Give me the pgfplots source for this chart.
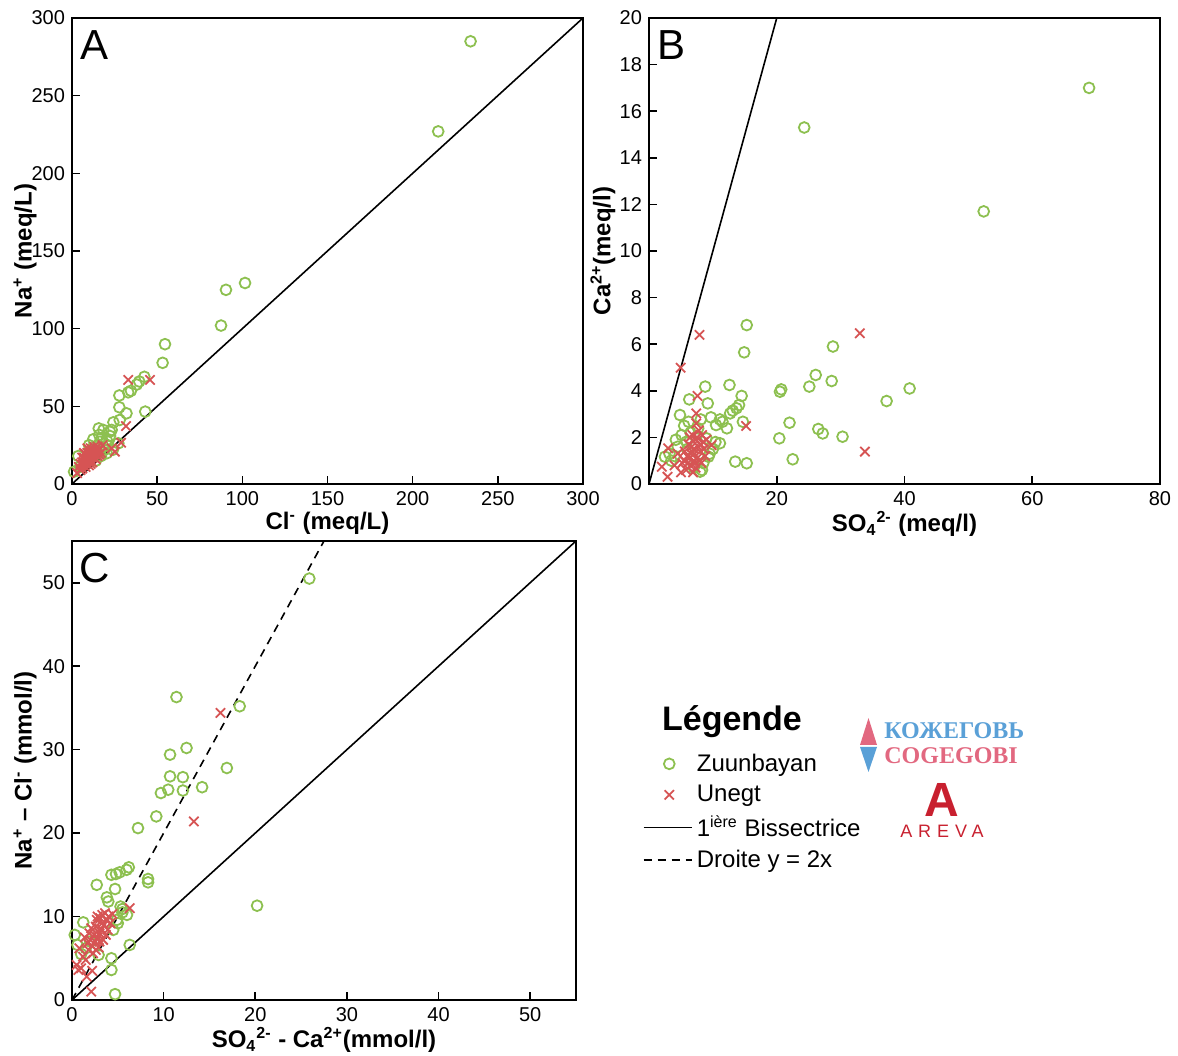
\documentclass[border=0pt]{standalone}
\usepackage{pgfplots}
\pgfplotsset{compat=1.18}
\usepackage{fontspec}
\setmainfont{Liberation Sans}
\newfontfamily\serifbold{Liberation Serif}
\newfontfamily\arevafont[LetterSpace=33]{Liberation Sans}
\definecolor{zgreen}{RGB}{141,192,80}
\definecolor{ured}{RGB}{214,84,84}
\definecolor{logoblue}{RGB}{90,160,215}
\definecolor{logopink}{RGB}{226,104,128}
\definecolor{arevared}{RGB}{200,32,47}
\pgfplotsset{
  panel/.style={
    scale only axis,
    axis line style={line width=1pt},
    xtick pos=left, ytick pos=left,
    tick align=inside,
    major tick length=4pt,
    every tick/.style={black, line width=0.8pt},
    tick label style={font=\fontsize{10}{12}\selectfont},
    /pgf/number format/assume math mode=true,
    legend cell align=left,
  },
  xlab/.style={every axis x label/.style={at={(axis description cs:0.5,0)}, yshift=-#1, anchor=center, font=\bfseries\fontsize{12}{14}\selectfont}},
  ylab/.style={every axis y label/.style={at={(axis description cs:0,0.5)}, xshift=-#1, rotate=90, anchor=center, font=\bfseries\fontsize{12}{14}\selectfont}},
  zz/.style={only marks, mark=o, mark size=2.7pt, color=zgreen, mark options={line width=0.9pt}},
  uu/.style={only marks, mark=x, mark size=3.3pt, color=ured, mark options={line width=0.9pt}},
  linelegend/.style={legend image code/.code={\draw[##1] (-0.15cm,0cm) -- (0.7cm,0cm);}},
}
\begin{document}
\begin{tikzpicture}
\path[use as bounding box] (0,0) rectangle (589pt,527.5pt);

% ---------------- Panel A
\begin{axis}[panel, at={(36pt,285.5pt)}, anchor=south west,
  width=255.5pt, height=233pt, xlab=19.5pt, ylab=23.5pt,
  xmin=0, xmax=300, ymin=0, ymax=300,
  xtick={0,50,...,300}, ytick={0,50,...,300},
  xlabel={Cl\textsuperscript{-} (meq/L)},
  ylabel={Na\textsuperscript{+} (meq/L)}]
\addplot[zz] coordinates {
(234,285) (215,227) (101.6,129.4) (90.4,125) (87.5,102) (54.6,90) (53.2,78)
(42.5,69) (39.5,66) (38,64) (34.6,60) (33,59) (27.8,57) (27.8,49.4) (32,45.5)
(43,46.6) (24.3,39.7) (28,41.2) (15.7,35.8) (18.4,34.8) (22.3,33.7) (23.3,34.8)
(16,31.6) (12.5,28.8) (17.4,29.4) (20.4,28.3) (22.3,30.9) (16.4,27.2) (14.5,24.5)
(18.4,24) (13.5,20.8) (3.7,18) (1.2,7.9) (4.7,11.1) (20.4,19.8) (27.2,26.2)
(19,22) (15,20) (12,23) (10,25) (21,25) (17,18) (14,15) (24,22)
};
\addplot[uu] coordinates {
(33,67) (45.8,67) (31.7,37.3) (28.8,26.6) (25.2,20.8) (23.3,23)
(8,15) (10,18) (12,20) (9,13) (11,16) (13,17) (7,12) (10,22) (14,21) (6,10)
(8,19) (12,14) (15,18) (11,23) (9,20) (13,24) (16,22) (5,9) (7,17) (10,12)
(12,19) (14,16) (9,17) (11,20) (8,13) (3,7) (6,14) (15,24) (17,20) (18,25)
(4,11) (6,17) (9,23) (13,21) (16,19) (7,14) (9,15) (11,18) (13,19) (8,11)
(10,15) (12,17) (14,19) (10,20) (12,22) (6,12) (5,13) (7,20) (11,13) (15,21)
};
\addplot[black, line width=0.8pt] coordinates {(0,0) (300,300)};
\node[font=\fontsize{21}{24}\selectfont] at (axis description cs:0.045,0.942) {A};
\end{axis}

% ---------------- Panel B
\begin{axis}[panel, at={(324.5pt,285.5pt)}, anchor=south west,
  width=255.5pt, height=233pt, xlab=20pt, ylab=23pt,
  xmin=0, xmax=80, ymin=0, ymax=20,
  xtick={20,40,60,80}, ytick={0,2,...,20},
  xlabel={SO\textsubscript{4}\textsuperscript{2-} (meq/l)},
  ylabel={Ca\textsuperscript{2+}(meq/l)}]
\addplot[zz] coordinates {
(68.9,17) (24.3,15.3) (52.4,11.7) (15.3,6.82) (14.9,5.65) (28.8,5.9) (26.1,4.68)
(25.1,4.18) (28.6,4.42) (20.7,4.06) (20.5,3.96) (40.8,4.1) (37.2,3.56) (22,2.63)
(26.5,2.36) (27.2,2.17) (30.3,2.03) (20.4,1.96) (22.5,1.06) (13.5,0.96) (15.3,0.89)
(12.6,4.25) (8.8,4.18) (6.3,3.63) (9.2,3.46) (14.5,3.78) (14.1,3.39) (13.7,3.25)
(13.1,3.15) (12.7,3.03) (4.85,2.96) (6.2,2.67) (8.1,2.77) (9.7,2.86) (11.1,2.77)
(11.5,2.67) (10.5,2.53) (12.2,2.39) (14.7,2.67)
(2.5,1.17) (8.0,0.53) (8.3,0.6) (9.3,1.17) (5.1,2.1) (5.9,1.82) (7.7,2.39)
(9.0,1.96) (11.1,1.75) (4.0,1.2) (3.5,1.0) (6.0,1.5) (4.5,1.6) (3.2,1.3)
(10.0,1.5) (8.5,0.9) (7.0,0.7) (5.5,2.5) (6.5,2.2) (9.5,1.3) (4.2,1.9) (10.4,1.8)
};
\addplot[uu] coordinates {
(7.9,6.4) (33.0,6.47) (4.96,4.99) (7.6,3.78) (7.4,3.03) (15.2,2.49) (33.8,1.39)
(3.0,1.53) (2.0,0.74) (2.9,0.31) (9.8,1.67)
(5.5,1.0) (6.0,1.2) (6.5,0.8) (7.0,1.5) (7.2,1.9) (7.5,1.1) (8.0,1.4) (8.2,0.9)
(6.8,2.1) (7.8,2.3) (6.2,1.7) (5.8,0.6) (7.3,0.7) (8.5,1.8) (6.6,1.3) (7.0,1.0)
(8.8,1.2) (5.2,0.9) (4.5,1.3) (7.7,1.6) (6.4,2.0) (8.3,2.1) (5.0,0.5) (6.9,0.5)
(9.0,1.9) (7.4,2.6) (4.0,0.8) (7.1,1.3) (6.1,0.9) (6.7,1.6) (7.9,1.0) (8.6,1.5)
(5.6,1.4) (7.5,2.0) (6.3,1.1) (8.1,1.7) (7.2,0.9)
};
\addplot[black, line width=0.8pt] coordinates {(0,0) (20,20)};
\node[font=\fontsize{21}{24}\selectfont] at (axis description cs:0.045,0.942) {B};
\end{axis}

% ---------------- Panel C
\begin{axis}[panel, at={(36pt,27.5pt)}, anchor=south west,
  width=252pt, height=229.5pt, xlab=20pt, ylab=23.5pt,
  xmin=0, xmax=55, ymin=0, ymax=55,
  xtick={0,10,...,50}, ytick={0,10,...,50},
  xlabel={SO\textsubscript{4}\textsuperscript{2-} - Ca\textsuperscript{2+}(mmol/l)},
  ylabel={Na\textsuperscript{+} -- Cl\textsuperscript{-} (mmol/l)},
  legend style={at={(axis description cs:1.12,0.555)}, anchor=north west,
    draw=none, fill=none, font=\fontsize{12}{14}\selectfont,
    row sep=1.5pt}]
\addplot[zz] coordinates {
(25.9,50.5) (11.4,36.3) (18.3,35.2) (12.5,30.2) (10.7,29.4) (16.9,27.8) (10.7,26.8)
(12.1,26.7) (10.5,25.2) (9.7,24.8) (12.1,25.1) (14.2,25.5) (9.2,22.0) (7.2,20.6)
(20.2,11.3) (6.2,15.9) (5.96,15.6) (5.2,15.3) (4.8,15.1) (4.3,15.0) (8.3,14.5)
(8.3,14.1) (2.7,13.8) (4.7,13.3) (3.8,12.3) (3.96,11.8) (5.3,11.2) (5.5,10.9)
(1.23,9.3) (0.3,7.8) (0.6,6.6) (4.9,9.6) (4.5,8.4) (6.3,6.6) (2.9,5.4) (4.3,5.0)
(4.3,3.6) (4.7,0.7) (1.5,6.2) (2.0,7.0) (5.5,10.5) (6.0,10.2) (1.0,5.5) (5.0,9.2)
};
\addlegendentry{Zuunbayan}
\addplot[uu] coordinates {
(16.2,34.4) (13.3,21.4) (6.3,11.0) (2.1,1.0) (0.7,3.6) (0.5,4.2) (1.2,5.2) (1.8,6.0)
(2.2,6.5) (2.5,7.0) (2.8,7.5) (3.0,8.0) (3.2,8.5) (3.5,9.0) (3.8,9.5) (4.0,10.0)
(3.6,10.4) (3.3,10.2) (2.6,8.8) (2.4,7.8) (2.0,7.2) (1.7,6.8) (3.4,7.2) (2.9,6.3)
(2.3,5.6) (1.5,4.8) (1.0,3.8) (4.2,9.2) (3.9,8.4) (2.7,9.6) (3.1,9.8) (1.9,8.0)
(2.2,3.5) (0.8,6.2) (4.4,10.3) (3.7,7.8) (1.4,7.5) (1.6,2.8) (2.6,6.0) (3.0,7.0)
(3.3,9.2) (2.1,8.6) (2.8,10.0)
};
\addlegendentry{Unegt}
\addplot[black, line width=0.8pt, linelegend]
  coordinates {(0,0) (55,55)};
\addlegendentry{1\textsuperscript{ière} Bissectrice}
\addplot[black, line width=0.8pt, dash pattern=on 4pt off 3pt, linelegend]
  coordinates {(0,0) (27.5,55)};
\addlegendentry{Droite y = 2x}
\node[font=\fontsize{21}{24}\selectfont] at (axis description cs:0.045,0.942) {C};
\end{axis}

% ---------------- Legend title and logos (pixel coordinates)
\begin{scope}[shift={(0pt,527.5pt)}, x=0.5pt, y=-0.5pt]
\node[anchor=west, font=\bfseries\fontsize{17}{20}\selectfont] at (655,722) {Légende};
\fill[logopink] (860,745) -- (877,745) -- (868.5,718) -- cycle;
\fill[logoblue] (860,747) -- (877,747) -- (868.5,772) -- cycle;
\node[anchor=west, inner sep=0pt, text=logoblue, font=\serifbold\bfseries\fontsize{12}{14}\selectfont] at (884,731) {КОЖЕГОВЬ};
\node[anchor=west, inner sep=0pt, text=logopink, font=\serifbold\bfseries\fontsize{12}{14}\selectfont] at (884,756) {COGEGOBI};
\node[text=arevared, font=\bfseries\fontsize{24}{26}\selectfont] at (942,800) {A};
\node[text=arevared, font=\arevafont\fontsize{9}{10}\selectfont] at (942,831) {AREVA};
\end{scope}
\end{tikzpicture}
\end{document}
